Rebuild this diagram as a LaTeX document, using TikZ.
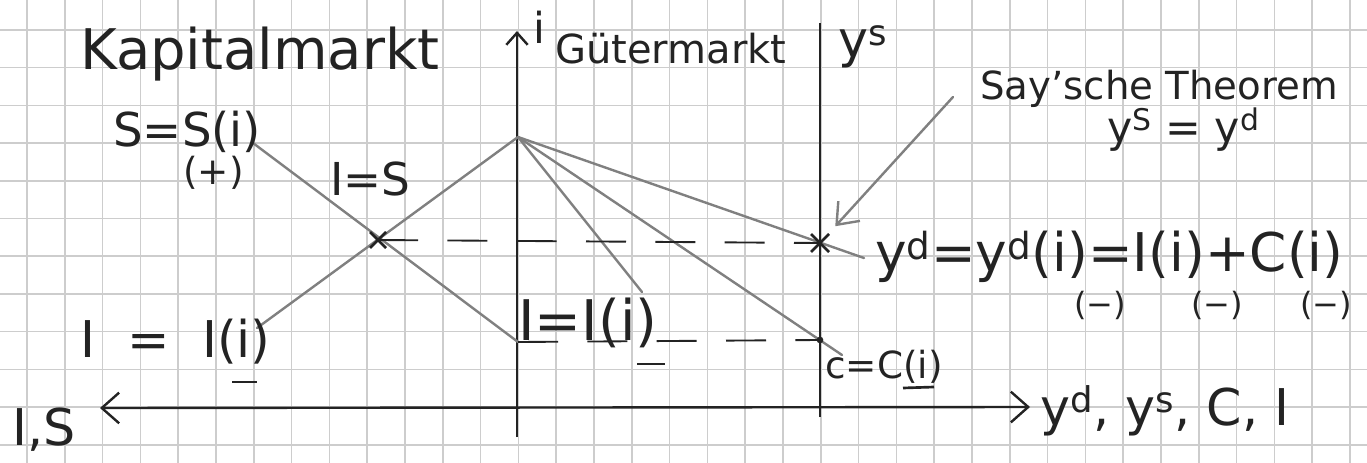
\documentclass[tikz,border=0pt]{standalone}
\usepackage{fontspec}
\setmainfont{DejaVu Sans}
\usetikzlibrary{arrows.meta}
\definecolor{tinte}{RGB}{35,35,35}
\definecolor{stift}{RGB}{128,128,128}
\definecolor{karo}{RGB}{205,205,205}
\tikzset{
  raster/.style={karo, line width=1.2pt},
  achse/.style={tinte, line width=1.8pt},
  kurve/.style={stift, line width=1.8pt, line cap=round},
  hilfslinie/.style={tinte, line width=1.4pt, dash pattern=on 30pt off 22pt},
  kreuz/.style={tinte, line width=2pt},
  txt/.style={inner sep=0pt, text=tinte, font=\fontsize{#1}{#1}\selectfont},
  txt/.default=36,
  barb/.tip={Straight Barb[length=13pt, width=23pt]},
}

\begin{document}
\begin{tikzpicture}[x=0.75pt, y=-0.75pt]
\useasboundingbox[fill=white] (0,0) rectangle (1367,463);
\foreach \k in {0,...,35}
  \draw[raster] ({27+37.8*\k},0) -- ({27+37.8*\k},463);
\foreach \k in {0,...,11}
  \draw[raster] (0,{30+37.7*\k}) -- (1367,{30+37.7*\k});

% Achsen
\coordinate (links) at (100,408);
\coordinate (rechts) at (1030,407);
\coordinate (iunten) at (517,437);
\coordinate (ioben) at (517,31);
\coordinate (ysunten) at (820,417);
\coordinate (ysoben) at (820,23);

\draw[achse, barb-barb] (links) -- (rechts);
\draw[achse, -{Straight Barb[length=9pt, width=16pt]}] (iunten) -- (ioben);
\draw[achse] (ysunten) -- (ysoben);

% Kurven
\coordinate (sanf) at (253,143);
\coordinate (ianf) at (257,328);
\coordinate (ks) at (378,240);
\coordinate (gipfel) at (518,137);
\coordinate (ipunkt) at (518,342);
\coordinate (iende) at (642,292);
\coordinate (cende) at (842,355);
\coordinate (ydende) at (864,258);
\coordinate (gg) at (820,243);
\coordinate (cpunkt) at (820,340);
\coordinate (sayfuss) at (953,97);

\draw[kurve] (sanf) -- (ipunkt);
\draw[kurve] (ianf) -- (gipfel);
\draw[kurve] (gipfel) -- (iende);
\draw[kurve] (gipfel) -- (cende);
\draw[kurve] (gipfel) -- (ydende);

\draw[hilfslinie] (ks) -- (gg);
\draw[hilfslinie] (ipunkt) -- (cpunkt);

\draw[kreuz] (ks) ++(-8,-8) -- ++(16,16) (ks) ++(-8,8) -- ++(16,-16);
\draw[kreuz] (gg) ++(-9,-9) -- ++(18,18) (gg) ++(-9,9) -- ++(18,-18);
\fill[tinte] (cpunkt) circle (2.5pt);

\draw[kurve, -{Straight Barb[length=14pt, width=22pt]}, shorten >=17pt] (sayfuss) -- (gg);

% Beschriftung
\node[txt=42, anchor=base west] (kapital) at (80,70) {Kapitalmarkt};
\node[txt=32, anchor=base west] (zins) at (533,44) {i};
\node[txt=30, anchor=base west] (gueter) at (555,64) {Gütermarkt};
\node[txt=38, anchor=base west] (ys) at (838,58) {y\textsuperscript{s}};
\node[txt=29, anchor=base west] (say) at (980,100) {Say'sche Theorem};
\node[txt=32, anchor=base west] (saygl) at (1107,143) {y\textsuperscript{S} = y\textsuperscript{d}};

\node[txt=35, anchor=base west] (sfkt) at (113,147) {S=S(i)};
\node[txt=28, anchor=base west] (splus) at (183,185) {(+)};
\node[txt=34, anchor=base west] (isgl) at (330,196) {I=S};
\node[txt=38, anchor=base west] (ifkt) at (80,357) {I \ = \ I(i)};
\node[txt=38, anchor=base west] (achsel) at (12,445) {I,S};

\node[txt=42, anchor=base west] (ifkt2) at (518,340) {I=I(i)};
\node[txt=28, anchor=base west] (cfkt) at (825,378) {c=C(i)};

\node[txt=40, anchor=base west] (ydfkt) at (875,272) {y\textsuperscript{d}=y\textsuperscript{d}(i)=I(i)+C(i)};
\node[txt=24] (ydminus) at (1100,305) {(−)};
\node[txt=24] (iminus3) at (1217,305) {(−)};
\node[txt=24] (cminus2) at (1326,305) {(−)};

\node[txt=38, anchor=base west] (achser) at (1040,425) {y\textsuperscript{d}, y\textsuperscript{s}, C, I};

% Vorzeichen-Striche
\draw[kreuz] (232,382) -- (257,382);
\draw[kreuz] (637,364) -- (665,364);
\draw[kreuz] (903,388) -- (934,387);
\end{tikzpicture}
\end{document}
